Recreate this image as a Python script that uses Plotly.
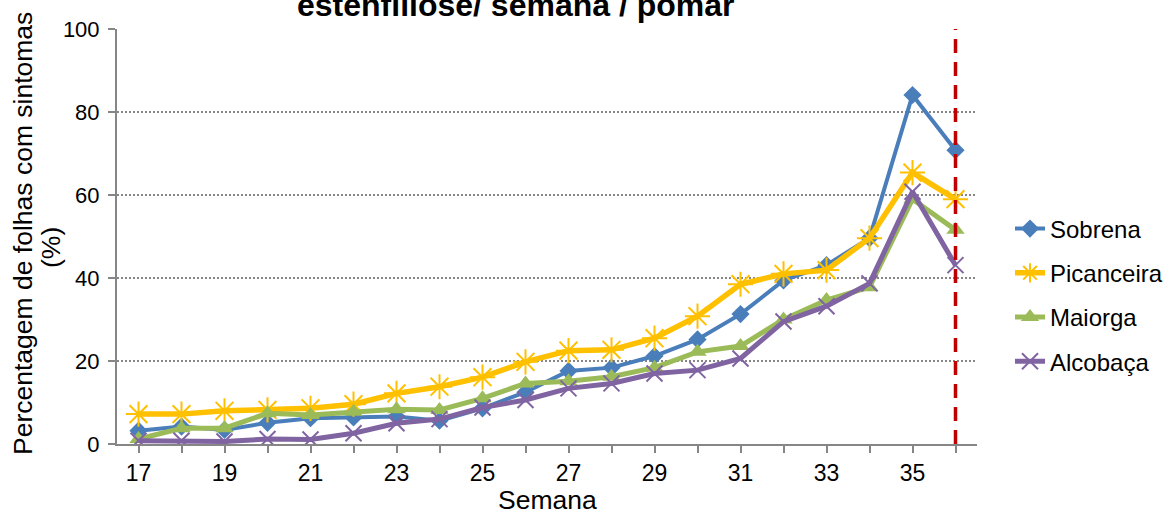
import plotly.graph_objects as go

weeks = list(range(17, 37))
tick_labels = [str(w) if w % 2 == 1 else "" for w in weeks]
y_ticks = [0, 20, 40, 60, 80, 100]

sobrena = [3.2, 4.2, 3.4, 5.1, 6.2, 6.4, 6.6, 5.6, 8.6, 12.5, 17.6, 18.4, 21.2, 25.2, 31.3, 39.4, 43.1, 49.6, 84.1, 70.8]
picanceira = [7.2, 7.2, 8.0, 8.2, 8.6, 9.6, 12.2, 13.8, 16.1, 19.8, 22.5, 22.7, 25.5, 30.8, 38.5, 41.0, 41.9, 49.6, 65.4, 59.0]
maiorga = [1.2, 3.8, 3.8, 7.4, 7.0, 7.8, 8.4, 8.2, 11.0, 14.6, 15.1, 16.2, 18.4, 22.2, 23.6, 30.0, 34.7, 37.8, 59.0, 51.6]
alcobaca = [0.8, 0.8, 0.6, 1.2, 1.1, 2.6, 5.0, 6.0, 8.8, 10.6, 13.4, 14.6, 17.0, 17.8, 20.6, 29.5, 33.2, 38.7, 60.8, 43.1]

series_names = ["Sobrena", "Picanceira", "Maiorga", "Alcobaça"]
series_values = [sobrena, picanceira, maiorga, alcobaca]
colors = ["#4A7EBB", "#FFC000", "#9BBB59", "#8064A2"]

title_text = "estenfiliose/ semana / pomar"
y_title_1 = "Percentagem de folhas com sintomas"
y_title_2 = "(%)"
x_title = "Semana"
limit_week = weeks[-1]

FONT = "Liberation Sans, Arial, sans-serif"

styles = [
    dict(line=dict(color=colors[0], width=4), marker=dict(symbol="diamond", size=14, color=colors[0])),
    dict(line=dict(color=colors[1], width=5.5), marker=dict(symbol="asterisk-open", size=21, color=colors[1], line=dict(color=colors[1], width=2))),
    dict(line=dict(color=colors[2], width=5), marker=dict(symbol="triangle-up", size=16, color=colors[2])),
    dict(line=dict(color=colors[3], width=5), marker=dict(symbol="x-thin-open", size=16, color=colors[3], line=dict(color=colors[3], width=2))),
]

fig = go.Figure()
for name, vals, st in zip(series_names, series_values, styles):
    fig.add_trace(go.Scatter(x=weeks, y=vals, name=name, mode="lines+markers",
                             legendgroup=name, **st))

fig.add_shape(type="line", xref="x", yref="y", x0=limit_week, x1=limit_week, y0=0, y1=100,
              line=dict(color="#C00000", width=3.5, dash="14px,9px"))

L, R, T, B = 117, 199, 29, 71
W, H = 1176, 515
pw = W - L - R
ph = H - T - B

def px_x(p):
    return (p - L) / pw

def px_y(p):
    return (H - B - p) / ph

fig.update_layout(
    width=W, height=H,
    margin=dict(l=L, r=R, t=T, b=B, autoexpand=False),
    paper_bgcolor="white", plot_bgcolor="white",
    font=dict(family=FONT, size=22, color="black"),
    showlegend=True,
    legend=dict(x=px_x(1010), xanchor="left", y=px_y(295), yanchor="middle",
                font=dict(size=24), tracegroupgap=10, traceorder="grouped",
                bgcolor="rgba(0,0,0,0)"),
    xaxis=dict(range=[16.5, 36.5], tickmode="array", tickvals=weeks, ticktext=tick_labels,
               showline=True, linecolor="#868686", linewidth=2, ticks="outside",
               ticklen=7, tickcolor="#868686", tickwidth=1.5, showgrid=False, zeroline=False,
               tickfont=dict(size=23)),
    yaxis=dict(range=[0, 100], tickmode="array", tickvals=y_ticks,
               showline=True, linecolor="#868686", linewidth=2, ticks="outside",
               ticklen=7, tickcolor="#868686", tickwidth=1.5,
               showgrid=True, gridcolor="#868686", gridwidth=2, griddash="2px,2px",
               zeroline=False, tickfont=dict(size=22), ticklabelstandoff=4),
)

fig.add_annotation(text="<b>" + title_text + "</b>", xref="paper", yref="paper",
                   x=px_x(516), y=px_y(25), xanchor="center", yanchor="bottom",
                   showarrow=False, font=dict(size=32, family=FONT, color="black"))

fig.add_annotation(text=y_title_1, xref="paper", yref="paper",
                   x=px_x(23), y=px_y(234), xanchor="center", yanchor="middle",
                   textangle=-90, showarrow=False, font=dict(size=26.5, family=FONT, color="black"))
fig.add_annotation(text=y_title_2, xref="paper", yref="paper",
                   x=px_x(51), y=px_y(248), xanchor="center", yanchor="middle",
                   textangle=-90, showarrow=False, font=dict(size=26.5, family=FONT, color="black"))

fig.add_annotation(text=x_title, xref="paper", yref="paper",
                   x=0.5, y=px_y(500), xanchor="center", yanchor="middle",
                   showarrow=False, font=dict(size=26.5, family=FONT, color="black"))

fig.write_html("out.html", config={"displayModeBar": False},
               post_script="document.body.style.margin='0';document.body.style.overflow='hidden';")
